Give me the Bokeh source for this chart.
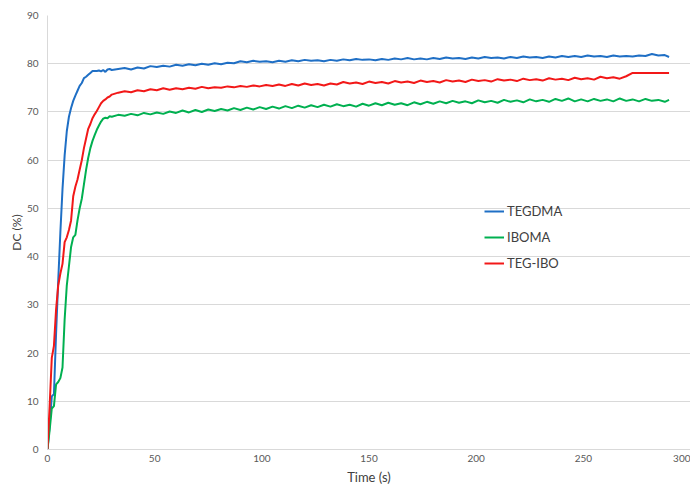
from bokeh.plotting import figure
from bokeh.models import Range1d, FixedTicker, SingleIntervalTicker, Legend, LegendItem
from bokeh.embed import file_html
from bokeh.resources import INLINE

time_s = [0, 1, 2, 3, 4, 5, 6, 7, 8, 9, 10, 11, 12, 13, 14, 15, 16, 17, 18, 19, 20,
          21, 22, 23, 24, 25, 26, 27, 28, 29, 30,
          33, 36, 39, 42, 45, 48, 51, 54, 57, 60, 63, 66, 69, 72, 75, 78, 81, 84, 87, 90,
          93, 96, 99, 102, 105, 108, 111, 114, 117, 120, 123, 126, 129, 132, 135, 138, 141, 144, 147, 150,
          153, 156, 159, 162, 165, 168, 171, 174, 177, 180, 183, 186, 189, 192, 195, 198, 201, 204, 207, 210,
          213, 216, 219, 222, 225, 228, 231, 234, 237, 240, 243, 246, 249, 252, 255, 258, 261, 264, 267, 270,
          273, 276, 279, 282, 285, 288, 290]

tegdma = [0, 5, 11, 11.5, 24, 35, 45, 54, 61, 66, 69, 70.8, 72.3, 73.4, 74.4, 75.4, 76.0, 77.0, 77.3, 77.7, 78.1,
          78.5, 78.5, 78.5, 78.6, 78.4, 78.7, 78.3, 78.8, 78.9, 78.7,
          78.9, 79.1, 78.8, 79.2, 79.0, 79.5, 79.3, 79.6, 79.4, 79.8, 79.6, 79.9, 79.7, 80.0, 79.8, 80.1, 79.9, 80.2, 80.1, 80.5,
          80.3, 80.6, 80.4, 80.5, 80.3, 80.6, 80.4, 80.7, 80.5, 80.8, 80.6, 80.7, 80.5, 80.8, 80.6, 80.9, 80.7, 81.0, 80.8, 80.9,
          80.7, 81.0, 80.8, 81.1, 80.9, 81.2, 80.9, 81.1, 80.9, 81.2, 81.0, 81.3, 81.1, 81.2, 81.0, 81.3, 81.1, 81.4, 81.2, 81.3,
          81.1, 81.4, 81.2, 81.5, 81.3, 81.4, 81.2, 81.5, 81.3, 81.6, 81.4, 81.6, 81.4, 81.7, 81.5, 81.6, 81.4, 81.7, 81.5, 81.6,
          81.5, 81.7, 81.6, 82.0, 81.7, 81.8, 81.4]

iboma = [0, 4, 8.5, 9, 13.5, 14, 14.8, 17, 27, 34, 38, 42, 44, 44.5, 47.5, 50, 52, 55, 58, 60.5, 62.5,
         64, 65.2, 66.3, 67.2, 68.0, 68.6, 68.8, 68.7, 69.1, 69.0,
         69.4, 69.2, 69.6, 69.3, 69.8, 69.5, 69.9, 69.6, 70.1, 69.8, 70.3, 69.9, 70.4, 70.0, 70.5, 70.2, 70.6, 70.3, 70.8, 70.4,
         70.9, 70.5, 71.0, 70.6, 71.1, 70.7, 71.2, 70.8, 71.3, 70.9, 71.4, 71.0, 71.5, 71.1, 71.6, 71.2, 71.5, 71.1, 71.7, 71.3,
         71.8, 71.4, 71.9, 71.5, 71.8, 71.4, 72.0, 71.6, 72.1, 71.7, 72.2, 71.8, 72.3, 71.9, 72.2, 71.8, 72.4, 72.0, 72.3, 71.9,
         72.5, 72.1, 72.4, 72.0, 72.6, 72.2, 72.5, 72.1, 72.7, 72.3, 72.8, 72.2, 72.6, 72.2, 72.7, 72.3, 72.6, 72.2, 72.8, 72.3,
         72.6, 72.2, 72.7, 72.3, 72.5, 72.1, 72.5]

teg_ibo = [0, 9, 19, 21.5, 29, 34, 36.5, 38.5, 43, 44, 45.5, 47.5, 52.5, 54.5, 56, 58, 60, 62.5, 64.5, 66.5, 67.5,
           68.7, 69.5, 70.2, 71.0, 71.8, 72.3, 72.6, 73.0, 73.2, 73.6,
           74.0, 74.3, 74.1, 74.5, 74.3, 74.7, 74.5, 74.9, 74.6, 74.9, 74.7, 75.0, 74.8, 75.2, 74.9, 75.1, 75.0, 75.3, 75.1, 75.4,
           75.2, 75.5, 75.3, 75.6, 75.4, 75.7, 75.4, 75.8, 75.5, 75.9, 75.6, 75.8, 75.5, 75.9, 75.7, 76.2, 75.9, 76.1, 75.8, 76.3,
           76.0, 76.2, 75.9, 76.4, 76.1, 76.3, 76.0, 76.5, 76.2, 76.4, 76.1, 76.6, 76.3, 76.5, 76.2, 76.7, 76.4, 76.6, 76.3, 76.8,
           76.5, 76.7, 76.4, 76.9, 76.6, 76.8, 76.5, 77.0, 76.7, 76.9, 76.6, 77.1, 76.8, 77.0, 76.7, 77.3, 77.0, 77.2, 76.9, 77.4,
           78.1, 78.1, 78.1, 78.1, 78.1, 78.1, 78.1]

series_names = ["TEGDMA", "IBOMA", "TEG-IBO"]
series_colors = ["#1F6FC5", "#00B050", "#F21818"]
x_ticks = [0, 50, 100, 150, 200, 250, 300]

FONT = "Lato"

p = figure(width=690, height=491, output_backend="svg", toolbar_location=None,
           x_range=Range1d(0, 300), y_range=Range1d(0, 90),
           min_border_left=47, min_border_top=15, min_border_right=0, min_border_bottom=42)
p.outline_line_color = None
p.background_fill_color = "white"

renderers = []
for ys, c in zip([tegdma, iboma, teg_ibo], series_colors):
    r = p.line(time_s, ys, line_color=c, line_width=2)
    renderers.append(r)

p.xaxis.ticker = FixedTicker(ticks=x_ticks)
p.yaxis.ticker = SingleIntervalTicker(interval=10)
for ax in (p.xaxis[0], p.yaxis[0]):
    ax.major_tick_line_color = None
    ax.minor_tick_line_color = None
    ax.major_tick_in = 0
    ax.major_tick_out = 0
    ax.axis_line_color = "#D9D9D9"
    ax.axis_line_width = 1
    ax.major_label_text_font = FONT
    ax.major_label_text_font_size = "10px"
    ax.major_label_text_color = "#595959"
    ax.axis_label_text_font = FONT
    ax.axis_label_text_font_style = "normal"
    ax.axis_label_text_color = "#404040"
p.xaxis.axis_label = "Time (s)"
p.yaxis.axis_label = "DC (%)"
p.xaxis.axis_label_text_font_size = "13px"
p.yaxis.axis_label_text_font_size = "12px"
p.xaxis.major_label_standoff = 5
p.yaxis.major_label_standoff = 5
p.xaxis.axis_label_standoff = 4
p.yaxis.axis_label_standoff = 0

p.xgrid.grid_line_color = None
p.ygrid.grid_line_color = "#D9D9D9"
p.ygrid.grid_line_width = 1

legend = Legend(items=[LegendItem(label=n, renderers=[r]) for n, r in zip(series_names, renderers)],
                location=(437, 176), background_fill_alpha=0, border_line_color=None,
                label_text_font=FONT, label_text_font_size="13px", label_text_color="#404040",
                glyph_width=20, glyph_height=20, label_height=20, spacing=6, padding=0, margin=0,
                label_standoff=3)
p.add_layout(legend, "center")

open("out.html", "w").write(file_html(p, INLINE))
